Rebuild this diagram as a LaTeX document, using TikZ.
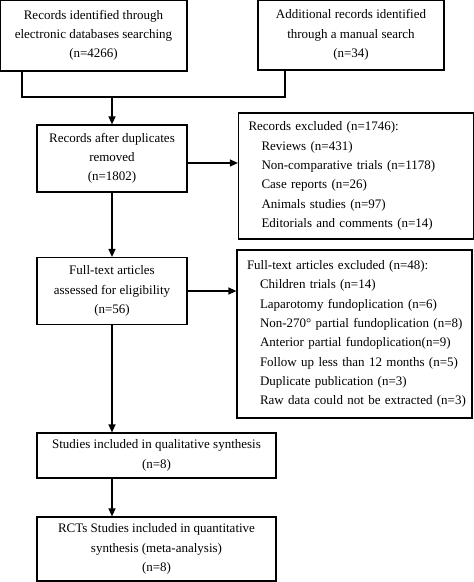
\documentclass[tikz,border=0pt]{standalone}
\usepackage{fontspec}
\setmainfont{Liberation Serif}
\usetikzlibrary{arrows.meta}
\begin{document}
\begin{tikzpicture}[x=1pt,y=-1pt,
  box/.style={draw,line width=1.2pt,align=center,inner sep=0pt,
    font=\fontsize{13}{19.3}\selectfont},
  exbox/.style={draw,line width=1.2pt,align=left,inner sep=0pt,
    text width=235pt,font=\fontsize{13}{19.3}\selectfont},
  conn/.style={line width=1.2pt},
  arr/.style={line width=1.2pt,-{Triangle[length=8pt,width=7pt]}}]
\useasboundingbox (0,0) rectangle (474,582);
\node[box,minimum width=187pt,minimum height=71pt] (b1) at (93.5,35.5)
  {Records identified through\\electronic databases searching\\(n=4266)};
\node[box,minimum width=186pt,minimum height=70pt] (b2) at (351,35)
  {Additional records identified\\through a manual search\\(n=34)};
\node[box,minimum width=150pt,minimum height=67pt] (b3) at (112,158.5)
  {Records after duplicates\\removed\\(n=1802)};
\node[exbox,minimum height=126pt] (e1) at (356,176)
  {\hspace*{10pt}Records excluded (n=1746):\\
   \hspace*{23pt}Reviews (n=431)\\
   \hspace*{23pt}Non-comparative trials (n=1178)\\
   \hspace*{23pt}Case reports (n=26)\\
   \hspace*{23pt}Animals studies (n=97)\\
   \hspace*{23pt}Editorials and comments (n=14)};
\node[box,minimum width=150pt,minimum height=67pt] (b4) at (112,291)
  {Full-text articles\\assessed for eligibility\\(n=56)};
\node[exbox,minimum height=168pt] (e2) at (354.5,334)
  {\hspace*{10pt}Full-text articles excluded (n=48):\\
   \hspace*{23pt}Children trials (n=14)\\
   \hspace*{23pt}Laparotomy fundoplication (n=6)\\
   \hspace*{23pt}Non-270° partial fundoplication (n=8)\\
   \hspace*{23pt}Anterior partial fundoplication(n=9)\\
   \hspace*{23pt}Follow up less than 12 months (n=5)\\
   \hspace*{23pt}Duplicate publication (n=3)\\
   \hspace*{23pt}Raw data could not be extracted (n=3)};
\node[box,minimum width=239pt,minimum height=45pt] (b5) at (156.5,455.5)
  {Studies included in qualitative synthesis\\(n=8)};
\node[box,minimum width=239pt,minimum height=64pt] (b6) at (156.5,549)
  {RCTs Studies included in quantitative\\synthesis (meta-analysis)\\(n=8)};
\coordinate (m1) at (22,97);
\coordinate (m2) at (285,97);
\draw[conn] (m1 |- b1.south) -- (m1) -- (m2) -- (m2 |- b2.south);
\draw[arr] (b3.north |- m1) -- (b3.north);
\draw[arr] ([yshift=-4.5pt]b3.east) -- ([yshift=-4.5pt]b3.east -| e1.west);
\draw[arr] (b3.south) -- (b3.south |- b4.north);
\draw[arr] (b4.east) -- (b4.east -| e2.west);
\draw[arr] (b4.south) -- (b4.south |- b5.north);
\draw[arr] (b4.south |- b5.south) -- (b4.south |- b6.north);
\end{tikzpicture}
\end{document}
